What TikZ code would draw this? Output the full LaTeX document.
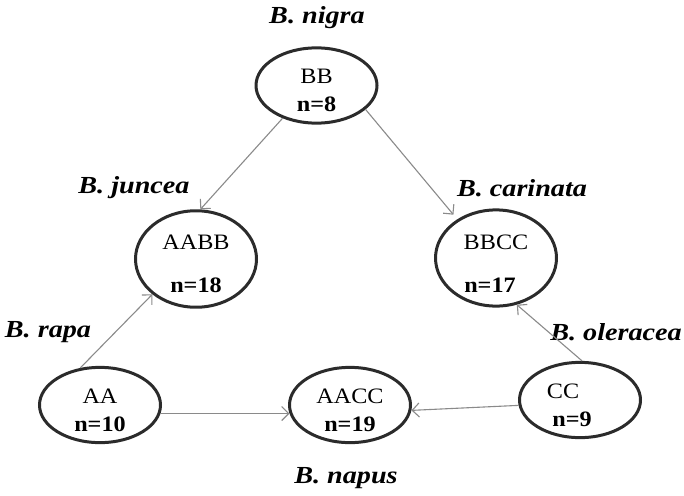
\documentclass[tikz,border=0pt]{standalone}
\usepackage{fontspec}
\setmainfont[FakeStretch=1.1]{Liberation Serif}
\newfontfamily\labfont[FakeStretch=1.15]{Liberation Serif}
\usetikzlibrary{arrows.meta,shapes.geometric}
\definecolor{ringcol}{HTML}{2B2B2B}
\definecolor{arrcol}{HTML}{8A8A8A}
\newcommand\uplift{\rule{0pt}{25pt}}
\tikzset{
  genome/.style={ellipse, draw=ringcol, line width=3pt, minimum width=121pt, minimum height=70pt,
    inner sep=0pt, align=center, font=\fontsize{22}{28}\selectfont, text=black},
  species/.style={font=\labfont\fontsize{24.5}{28}\selectfont\bfseries\itshape, text=black, inner sep=0pt},
  cross/.style={draw=arrcol, line width=1.1pt, -{Straight Barb[length=7pt,width=14pt,line width=1.1pt]}},
}
\begin{document}
\begin{tikzpicture}[x=1pt,y=-1pt]
\useasboundingbox (0,0) rectangle (684,495);
\node[genome] (BB) at (316.5,85.5) {\uplift BB\\\textbf{n=8}};
\node[genome] (AABB) at (196,259) {\uplift AABB\\[15pt]\textbf{n=18}};
\node[genome] (BBCC) at (496,258) {\uplift BBCC\\[15pt]\textbf{n=17}\hspace*{12pt}};
\node[genome] (AA) at (100,405) {\uplift AA\\\textbf{n=10}};
\node[genome] (AACC) at (350,405) {\uplift AACC\\\textbf{n=19}};
\node[genome] (CC) at (580,400) {\uplift CC\hspace*{34pt}\\\textbf{n=9}\hspace*{16pt}};
\node[species] (nigra) at (317,18) {B. nigra};
\node[species] (juncea) at (134,188) {B. juncea};
\node[species] (carinata) at (522,188) {B. carinata};
\node[species] (rapa) at (48,332) {B. rapa};
\node[species] (oleracea) at (616,332) {B. oleracea};
\node[species] (napus) at (346,478) {B. napus};
\draw[cross] (BB.224) -- (AABB.85);
\draw[cross, shorten >=6pt] (BB.334) -- (BBCC.135);
\draw[cross] (AA.118) -- (AABB.219);
\draw[cross] (CC.87) -- (BBCC.294);
\draw[cross] (AA.-8) -- (AACC.188);
\draw[cross] (CC.185) -- (AACC.-5);
\end{tikzpicture}
\end{document}
